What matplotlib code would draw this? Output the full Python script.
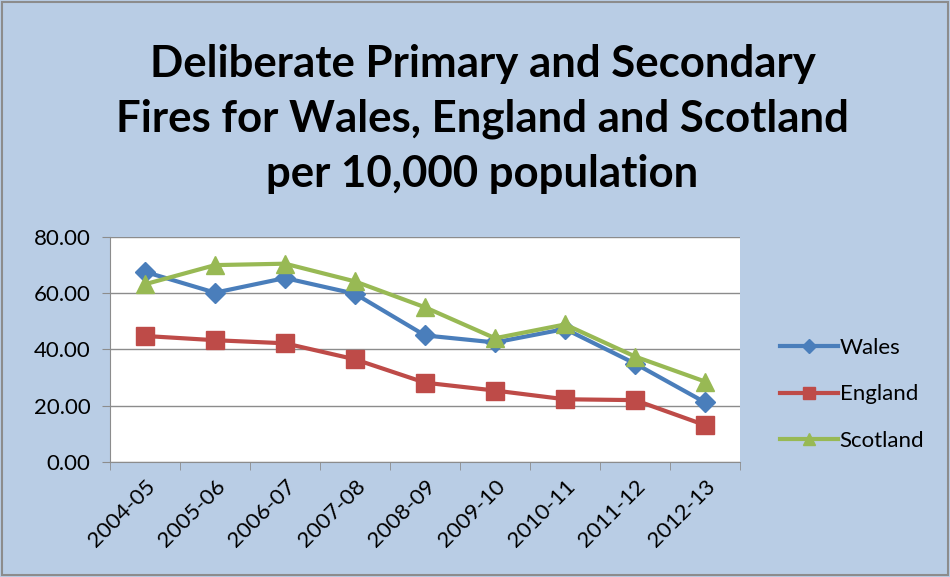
import matplotlib.pyplot as plt
from matplotlib.patches import Rectangle

# years on the x axis
years = ["2004-05", "2005-06", "2006-07", "2007-08", "2008-09",
         "2009-10", "2010-11", "2011-12", "2012-13"]

# fires per 10,000 population
wales = [67.6, 60.2, 65.4, 59.8, 45.0, 42.5, 47.3, 35.0, 21.2]
england = [44.8, 43.3, 42.2, 36.5, 28.2, 25.4, 22.3, 22.0, 13.1]
scotland = [63.2, 70.0, 70.5, 64.2, 55.0, 44.0, 48.9, 37.5, 28.6]

bg = "#B9CDE5"
plt.rcParams['font.family'] = ['Lato', 'DejaVu Sans']

fig = plt.figure(figsize=(9.5, 5.77), dpi=100, facecolor=bg)
fig.patches.append(Rectangle((0.002, 0.003), 0.996, 0.994, transform=fig.transFigure,
                             fill=False, edgecolor="#8C8C8C", linewidth=1.5))

ax = fig.add_axes([0.1158, 0.1993, 0.6632, 0.3900])
ax.set_facecolor("white")

x = range(len(years))
ax.plot(x, wales, color="#4A7EBB", linewidth=3, marker="D", markersize=10,
        label="Wales", zorder=3)
ax.plot(x, england, color="#BE4B48", linewidth=3, marker="s", markersize=13,
        label="England", zorder=3)
ax.plot(x, scotland, color="#98B954", linewidth=3, marker="^", markersize=13,
        label="Scotland", zorder=4)

ax.set_xlim(-0.5, len(years) - 0.5)
ax.set_ylim(0, 80)
ax.set_yticks([0, 20, 40, 60, 80])
ax.set_yticklabels(["%.2f" % v for v in [0, 20, 40, 60, 80]], fontsize=16)
ax.yaxis.grid(True, color="#8C8C8C", linewidth=1)
ax.set_axisbelow(True)

ax.set_xticks(list(x))
ax.set_xticklabels(years, rotation=45, ha="right", rotation_mode="anchor", fontsize=16)
ax.tick_params(axis="x", which="major", length=0, pad=10)
ax.set_xticks([i - 0.5 for i in range(len(years) + 1)], minor=True)
ax.tick_params(axis="x", which="minor", length=6, color="#8C8C8C")
ax.tick_params(axis="y", length=6, color="#8C8C8C", pad=8)

for s in ["top", "right"]:
    ax.spines[s].set_visible(False)
for s in ["left", "bottom"]:
    ax.spines[s].set_color("#8C8C8C")

fig.text(0.508, 0.794, "Deliberate Primary and Secondary\nFires for Wales, England and Scotland\nper 10,000 population",
         ha="center", va="center", fontsize=31.5, fontweight="bold", linespacing=1.45)

leg = ax.legend(loc="center left", bbox_to_anchor=(1.063, 0.30), frameon=False,
                fontsize=16, handlelength=2.6, handletextpad=0.1, labelspacing=1.2,
                borderpad=0, borderaxespad=0, markerscale=0.7)

plt.savefig("out.png", dpi=100, facecolor=bg)
